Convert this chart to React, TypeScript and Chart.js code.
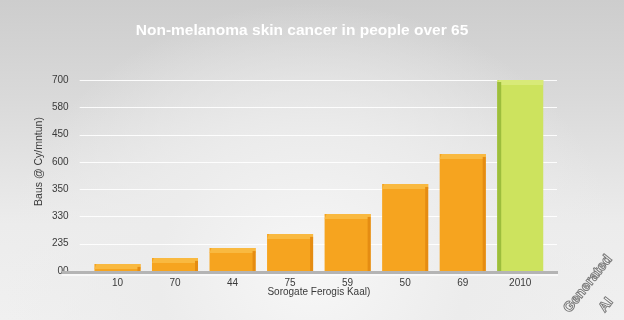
import React, { useEffect, useRef } from "react";
import { Chart, registerables } from "chart.js";

Chart.register(...registerables);

const categories = ["10", "70", "44", "75", "59", "50", "69", "2010"];
const values = [26, 48, 84, 136, 209, 319, 429, 700];
const yTickLabels = ["00", "235", "330", "350", "600", "450", "580", "700"];
const barColors = ["#F6A41F", "#F6A41F", "#F6A41F", "#F6A41F", "#F6A41F", "#F6A41F", "#F6A41F", "#CDE35E"];
const topColors = ["#F9B940", "#F9B940", "#F9B940", "#F9B940", "#F9B940", "#F9B940", "#F9B940", "#D8EA78"];
const edgeColors = ["#E58C12", "#E58C12", "#E58C12", "#E58C12", "#E58C12", "#E58C12", "#E58C12", "#9DBE3C"];
const chartTitle = "Non-melanoma skin cancer in people over 65";
const yTitle = "Baus @ Cy/mntun)";
const xTitle = "Sorogate Ferogis Kaal)";
const watermarkLines = ["Generated", "AI"];

const FONT = "'Liberation Sans', Arial, sans-serif";

const decor = {
  id: "decor",
  beforeDatasetsDraw(chart: any) {
    const { ctx, chartArea, scales } = chart;
    const y = scales.y;
    ctx.save();
    ctx.strokeStyle = "rgba(255,255,255,0.9)";
    ctx.lineWidth = 1;
    y.ticks.forEach((t: any) => {
      const py = Math.round(y.getPixelForValue(t.value)) + 0.5;
      ctx.beginPath();
      ctx.moveTo(chartArea.left - 9, py);
      ctx.lineTo(chartArea.right + 8, py);
      ctx.stroke();
    });
    const base = y.getPixelForValue(0);
    ctx.fillStyle = "#b4b4b4";
    ctx.fillRect(chartArea.left - 27, base, chartArea.right - chartArea.left + 36, 3);
    ctx.fillStyle = "rgba(255,255,255,0.6)";
    ctx.fillRect(chartArea.left - 27, base + 3, chartArea.right - chartArea.left + 36, 2);
    ctx.restore();
  },
  afterDatasetsDraw(chart: any) {
    const { ctx } = chart;
    const meta = chart.getDatasetMeta(0);
    ctx.save();
    meta.data.forEach((bar: any, i: number) => {
      const { x, y, width, base } = bar.getProps(["x", "y", "width", "base"], true);
      const left = x - width / 2;
      const h = base - y;
      ctx.fillStyle = topColors[i];
      ctx.beginPath();
      ctx.moveTo(left + 2, y);
      ctx.lineTo(left + width, y);
      ctx.lineTo(left + width, y + Math.min(5, h));
      ctx.lineTo(left, y + Math.min(5, h));
      ctx.closePath();
      ctx.fill();
      ctx.fillStyle = edgeColors[i];
      if (i === categories.length - 1) {
        ctx.fillRect(left, y + 2, 4, h - 2);
      } else {
        ctx.fillRect(left + width - 3, y + 3, 3, h - 3);
      }
    });
    ctx.restore();
  },
  afterDraw(chart: any) {
    const { ctx, chartArea } = chart;
    ctx.save();
    // chart title
    ctx.font = `bold 15.5px ${FONT}`;
    ctx.textAlign = "center";
    ctx.textBaseline = "middle";
    ctx.fillStyle = "#ffffff";
    ctx.fillText(chartTitle, 302, 31);
    // y-axis title
    ctx.save();
    ctx.translate(39, (chartArea.top + chartArea.bottom) / 2 - 14);
    ctx.rotate(-Math.PI / 2);
    ctx.font = `10.5px ${FONT}`;
    ctx.fillStyle = "#3a3a3a";
    ctx.fillText(yTitle, 0, 0);
    ctx.restore();
    // watermark
    ctx.font = `bold 14px ${FONT}`;
    ctx.strokeStyle = "rgba(90,90,90,0.8)";
    ctx.fillStyle = "rgba(255,255,255,0.85)";
    ctx.lineWidth = 1;
    const pos = [
      [588, 284],
      [606, 305],
    ];
    watermarkLines.forEach((t, i) => {
      ctx.save();
      ctx.translate(pos[i][0], pos[i][1]);
      ctx.rotate(-0.9);
      ctx.fillText(t, 0, 0);
      ctx.strokeText(t, 0, 0);
      ctx.restore();
    });
    ctx.restore();
  },
};

export default function App() {
  const ref = useRef<HTMLCanvasElement | null>(null);

  useEffect(() => {
    document.body.style.margin = "0";
    if (!ref.current) return;
    const chart = new Chart(ref.current, {
      type: "bar",
      data: {
        labels: categories,
        datasets: [
          {
            data: values,
            backgroundColor: barColors,
            borderWidth: 0,
            barPercentage: 0.8,
            categoryPercentage: 1,
          },
        ],
      },
      options: {
        responsive: false,
        animation: false,
        layout: { padding: { left: 32, right: 75, top: 80, bottom: 23 } },
        plugins: {
          legend: { display: false },
          tooltip: { enabled: false },
          title: { display: false },
        },
        scales: {
          x: {
            grid: { display: false, drawTicks: false },
            border: { display: false },
            ticks: {
              color: "#3a3a3a",
              font: { family: FONT, size: 10, lineHeight: 1 },
              padding: 7,
            },
            title: {
              display: true,
              text: xTitle,
              color: "#3a3a3a",
              font: { family: FONT, size: 10, lineHeight: 1 },
              padding: { top: -8, bottom: 0 },
            },
          },
          y: {
            min: 0,
            max: 700,
            grid: { display: false, drawTicks: false },
            border: { display: false },
            ticks: {
              stepSize: 100,
              color: "#3a3a3a",
              font: { family: FONT, size: 10 },
              padding: 20,
              callback: (_v: any, i: number) => yTickLabels[i],
            },
            title: { display: false },
          },
        },
      },
      plugins: [decor],
    });
    return () => chart.destroy();
  }, []);

  return (
    <div
      style={{
        position: "fixed",
        left: 0,
        top: 0,
        width: 624,
        height: 320,
        background:
          "radial-gradient(ellipse at 50% 85%, #f7f7f7 0%, #ececec 35%, rgba(236,236,236,0) 70%), linear-gradient(#cdcdcd 0%, #d9d9d9 30%, #ececec 70%, #f0f0f0 100%)",
      }}
    >
      <canvas ref={ref} width={624} height={320} />
    </div>
  );
}
